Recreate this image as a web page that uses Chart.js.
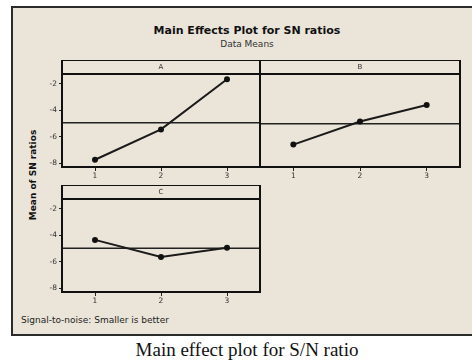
<!DOCTYPE html>
<html>
<head>
<meta charset="utf-8">
<script src="https://cdn.jsdelivr.net/npm/chart.js@4/dist/chart.umd.min.js"></script>
<style>
  html, body { margin: 0; padding: 0; background: #fff; }
  body { width: 472px; height: 360px; position: relative; overflow: hidden; font-family: "DejaVu Sans", sans-serif; }
  .frame { position: absolute; left: 11px; top: 6px; width: 470px; height: 326px; background: #ebe5d9; border: 2px solid #2b2b2b; border-right: none; }
  .abs { position: absolute; white-space: nowrap; line-height: 1; }
  .title { left: 47px; width: 400px; text-align: center; top: 25px; font-size: 11px; font-weight: bold; color: #111; }
  .sub { left: 47px; width: 400px; text-align: center; top: 40px; font-size: 9px; color: #333; }
  .ytitle { left: 33px; top: 175px; font-size: 9px; font-weight: bold; color: #111; transform: translate(-50%, -50%) rotate(-90deg); }
  .note { left: 21px; top: 316px; font-size: 9px; color: #222; }
  .caption { left: 47px; width: 400px; text-align: center; top: 340px; font-family: "Liberation Serif", "Times New Roman", serif; font-size: 19px; color: #111; }
  canvas { position: absolute; }
</style>
</head>
<body>
<div class="frame"></div>
<div class="abs title">Main Effects Plot for SN ratios</div>
<div class="abs sub">Data Means</div>
<div class="abs ytitle">Mean of SN ratios</div>
<div class="abs note">Signal-to-noise: Smaller is better</div>
<div class="abs caption">Main effect plot for S/N ratio</div>

<canvas id="panelA" width="231" height="121" style="left:30px; top:60px;"></canvas>
<canvas id="panelB" width="204" height="121" style="left:258px; top:60px;"></canvas>
<canvas id="panelC" width="231" height="121" style="left:30px; top:185px;"></canvas>

<script>
// factor levels and mean S/N ratio per level
const levels = [1, 2, 3];
const factorA = [-7.75, -5.45, -1.65];
const factorB = [-6.6, -4.85, -3.6];
const factorC = [-4.35, -5.65, -4.95];
const yTicks = [-8, -6, -4, -2];
const yMin = -8.3;
const yMax = -1.25;

const STRIP = 14;
const FONT = '"DejaVu Sans", sans-serif';

// strip header, panel border and the overall mean line
const panelFrame = {
  id: 'panelFrame',
  beforeDatasetsDraw(chart) {
    const { ctx, chartArea: a, scales } = chart;
    const vals = chart.data.datasets[0].data.map(p => p.y);
    const mean = vals.reduce((s, v) => s + v, 0) / vals.length;
    const y = scales.y.getPixelForValue(mean);
    ctx.save();
    ctx.strokeStyle = '#222';
    ctx.lineWidth = 1.5;
    ctx.beginPath();
    ctx.moveTo(a.left, y);
    ctx.lineTo(a.right, y);
    ctx.stroke();
    ctx.restore();
  },
  afterDraw(chart, args, opts) {
    const { ctx, chartArea: a } = chart;
    ctx.save();
    ctx.strokeStyle = '#111';
    ctx.lineWidth = 2;
    ctx.strokeRect(a.left, a.top - STRIP, a.right - a.left, a.bottom - a.top + STRIP);
    ctx.beginPath();
    ctx.moveTo(a.left, a.top);
    ctx.lineTo(a.right, a.top);
    ctx.stroke();
    ctx.fillStyle = '#333';
    ctx.font = '7px ' + FONT;
    ctx.textAlign = 'center';
    ctx.textBaseline = 'middle';
    ctx.fillText(opts.label, (a.left + a.right) / 2, a.top - STRIP / 2 + 0.5);
    ctx.restore();
  }
};

function makePanel(id, label, values, showY) {
  const canvas = document.getElementById(id);
  return new Chart(canvas.getContext('2d'), {
    type: 'line',
    data: {
      datasets: [{
        data: values.map((v, i) => ({ x: levels[i], y: v })),
        borderColor: '#1a1a1a',
        borderWidth: 2,
        pointRadius: 2,
        pointBackgroundColor: '#111',
        pointBorderColor: '#111',
        tension: 0,
      }],
    },
    options: {
      responsive: false,
      animation: false,
      events: [],
      layout: { autoPadding: false, padding: { top: STRIP, right: showY ? 1 : 2 } },
      plugins: {
        legend: { display: false },
        tooltip: { enabled: false },
        panelFrame: { label },
      },
      scales: {
        x: {
          type: 'linear',
          min: 0.5,
          max: 3.5,
          afterBuildTicks: s => { s.ticks = levels.map(v => ({ value: v })); },
          afterFit: s => { s.height = 14; },
          border: { display: false },
          grid: { drawOnChartArea: false, drawTicks: true, tickLength: 4, tickColor: '#222', tickWidth: 1 },
          ticks: { color: '#333', font: { size: 7.5, family: FONT }, padding: 1, maxRotation: 0 },
        },
        y: {
          type: 'linear',
          min: yMin,
          max: yMax,
          afterBuildTicks: s => { s.ticks = yTicks.map(v => ({ value: v })); },
          afterFit: s => { s.width = showY ? 32 : 2; },
          border: { display: false },
          grid: { drawOnChartArea: false, drawTicks: showY, tickLength: 3, tickColor: '#222', tickWidth: 1 },
          ticks: { display: showY, color: '#333', font: { size: 7.5, family: FONT }, padding: 2 },
        },
      },
    },
    plugins: [panelFrame],
  });
}

makePanel('panelA', 'A', factorA, true);
makePanel('panelB', 'B', factorB, false);
makePanel('panelC', 'C', factorC, true);
</script>
</body>
</html>
